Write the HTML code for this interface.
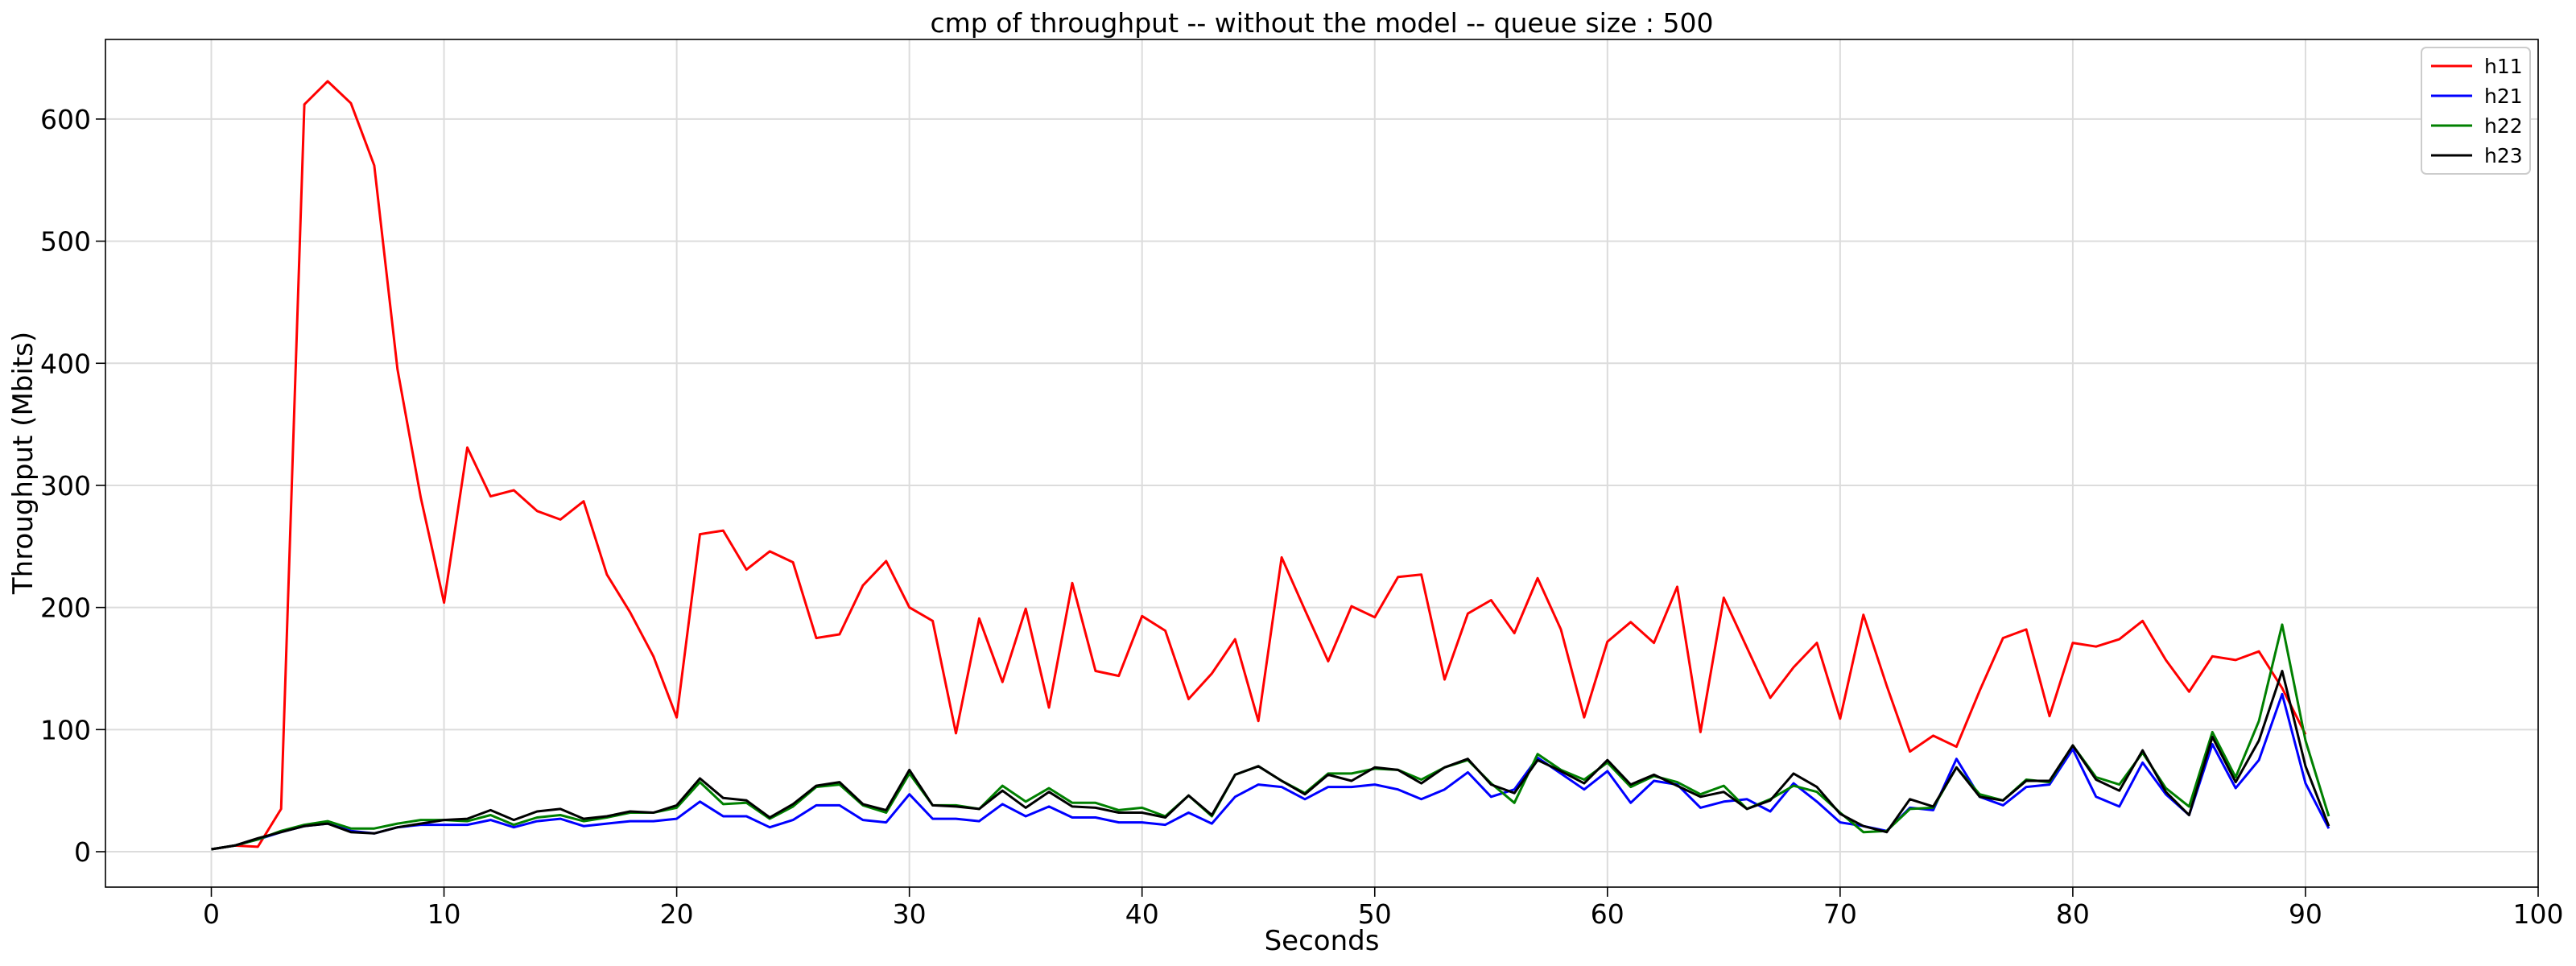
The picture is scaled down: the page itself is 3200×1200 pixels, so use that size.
<!DOCTYPE html>
<html><head><meta charset="utf-8"><style>
html,body{margin:0;padding:0;background:#fff;}
svg{display:block;font-family:"DejaVu Sans","Liberation Sans",sans-serif;}
</style></head><body>
<svg id="chart" width="3200" height="1200" viewBox="0 0 3200 1200" xmlns="http://www.w3.org/2000/svg">
<rect x="0" y="0" width="3200" height="1200" fill="#fff"/>
<g id="grid"></g>
<g id="series"></g>
<rect x="131" y="49" width="3022" height="1053" fill="none" stroke="#000" stroke-width="1.6"/>
<g id="ticks"></g>
<text x="1642" y="40" text-anchor="middle" font-size="33">cmp of throughput -- without the model -- queue size : 500</text>
<text x="1642" y="1180" text-anchor="middle" font-size="34">Seconds</text>
<text transform="translate(40,575) rotate(-90)" text-anchor="middle" font-size="34">Throughput (Mbits)</text>
<g id="legend">
<rect x="3008" y="59" width="135" height="157" rx="6" fill="#fff" stroke="#ccc" stroke-width="2"/>
</g>
</svg>
<script>
const seconds = Array.from({length:92},(_,i)=>i);
const h11 = [2,5,4,35,612,631,613,562,395,290,204,331,291,296,279,272,287,227,196,160,110,260,263,231,246,237,175,178,218,238,200,189,97,191,139,199,118,220,148,144,193,181,125,146,174,107,241,198,156,201,192,225,227,141,195,206,179,224,182,110,172,188,171,217,98,208,167,126,151,171,109,194,136,82,95,86,132,175,182,111,171,168,174,189,157,131,160,157,164,134,96];
const h21 = [2,5,10,16,21,23,17,15,20,22,22,22,26,20,25,27,21,23,25,25,27,41,29,29,20,26,38,38,26,24,47,27,27,25,39,29,37,28,28,24,24,22,32,23,45,55,53,43,53,53,55,51,43,51,65,45,51,77,64,51,66,40,58,55,36,41,43,33,56,41,24,21,17,36,34,76,45,38,53,55,84,45,37,73,47,30,88,52,75,129,56,19];
const h22 = [2,5,10,17,22,25,19,19,23,26,26,25,30,22,28,30,25,28,32,32,36,57,39,40,27,37,53,55,38,32,64,38,38,35,54,41,52,40,40,34,36,29,46,29,63,70,58,48,64,64,68,67,59,69,75,56,40,80,67,59,73,53,62,57,47,54,35,43,54,49,32,16,17,35,36,69,47,42,59,57,87,61,55,81,52,37,98,61,107,186,91,29];
const h23 = [2,5,11,16,21,23,16,15,20,23,26,27,34,26,33,35,27,29,33,32,38,60,44,42,28,39,54,57,39,34,67,38,37,35,50,36,49,37,36,32,32,28,46,30,63,70,58,47,63,58,69,67,56,69,76,55,48,75,66,56,75,55,63,54,45,49,35,42,64,53,31,21,16,43,37,69,45,42,58,58,87,59,50,83,49,30,94,57,91,148,70,21];
const xTicks = [0,10,20,30,40,50,60,70,80,90,100];
const yTicks = [0,100,200,300,400,500,600];
const seriesNames = ['h11','h21','h22','h23'];
const seriesColors = ['#ff0000','#0000ff','#008000','#000000'];

const NS='http://www.w3.org/2000/svg';
const L=131,R=3153,T=49,B=1102;
const xMin=-4.55,xMax=100,yMin=-29.0,yMax=665.2;
const xs=v=>L+(v-xMin)/(xMax-xMin)*(R-L);
const ys=v=>B-(v-yMin)/(yMax-yMin)*(B-T);
function mk(tag,attrs,parent){const e=document.createElementNS(NS,tag);for(const k in attrs)e.setAttribute(k,attrs[k]);parent.appendChild(e);return e;}
const grid=document.getElementById('grid'),ticks=document.getElementById('ticks'),ser=document.getElementById('series'),leg=document.getElementById('legend');
xTicks.forEach(t=>{
  const g=mk('line',{x1:xs(t),x2:xs(t),y1:T,y2:B,stroke:'#dcdcdc','stroke-width':2},grid);
  
  
  const tk=mk('line',{x1:xs(t),x2:xs(t),y1:B,y2:B+12,stroke:'#000','stroke-width':1.6},ticks);
  
  
  const tx=mk('text',{x:xs(t),y:B+45,'text-anchor':'middle','font-size':33},ticks);
  tx.textContent=t;
  
  
});
yTicks.forEach(t=>{
  const g=mk('line',{x1:L,x2:R,y1:ys(t),y2:ys(t),stroke:'#dcdcdc','stroke-width':2},grid);
  
  
  const tk=mk('line',{x1:L-12,x2:L,y1:ys(t),y2:ys(t),stroke:'#000','stroke-width':1.6},ticks);
  
  
  const tx=mk('text',{x:L-18,y:ys(t)+12,'text-anchor':'end','font-size':33},ticks);
  tx.textContent=t;
  
  
});
[h11,h21,h22,h23].forEach((data,si)=>{
  const d=data.map((v,i)=>(i?'L':'M')+xs(seconds[i]).toFixed(1)+' '+ys(v).toFixed(1)).join(' ');
  const p=mk('path',{d:d,fill:'none',stroke:seriesColors[si],'stroke-width':3,'stroke-linejoin':'round'},ser);
  
  
  const ly=82+si*37;
  const ll=mk('line',{x1:3020,x2:3071,y1:ly,y2:ly,stroke:seriesColors[si],'stroke-width':3},leg);
  
  
  const lt=mk('text',{x:3086,y:ly+9,'font-size':25},leg);
  lt.textContent=seriesNames[si];
  
  
});
</script>
</body></html>
